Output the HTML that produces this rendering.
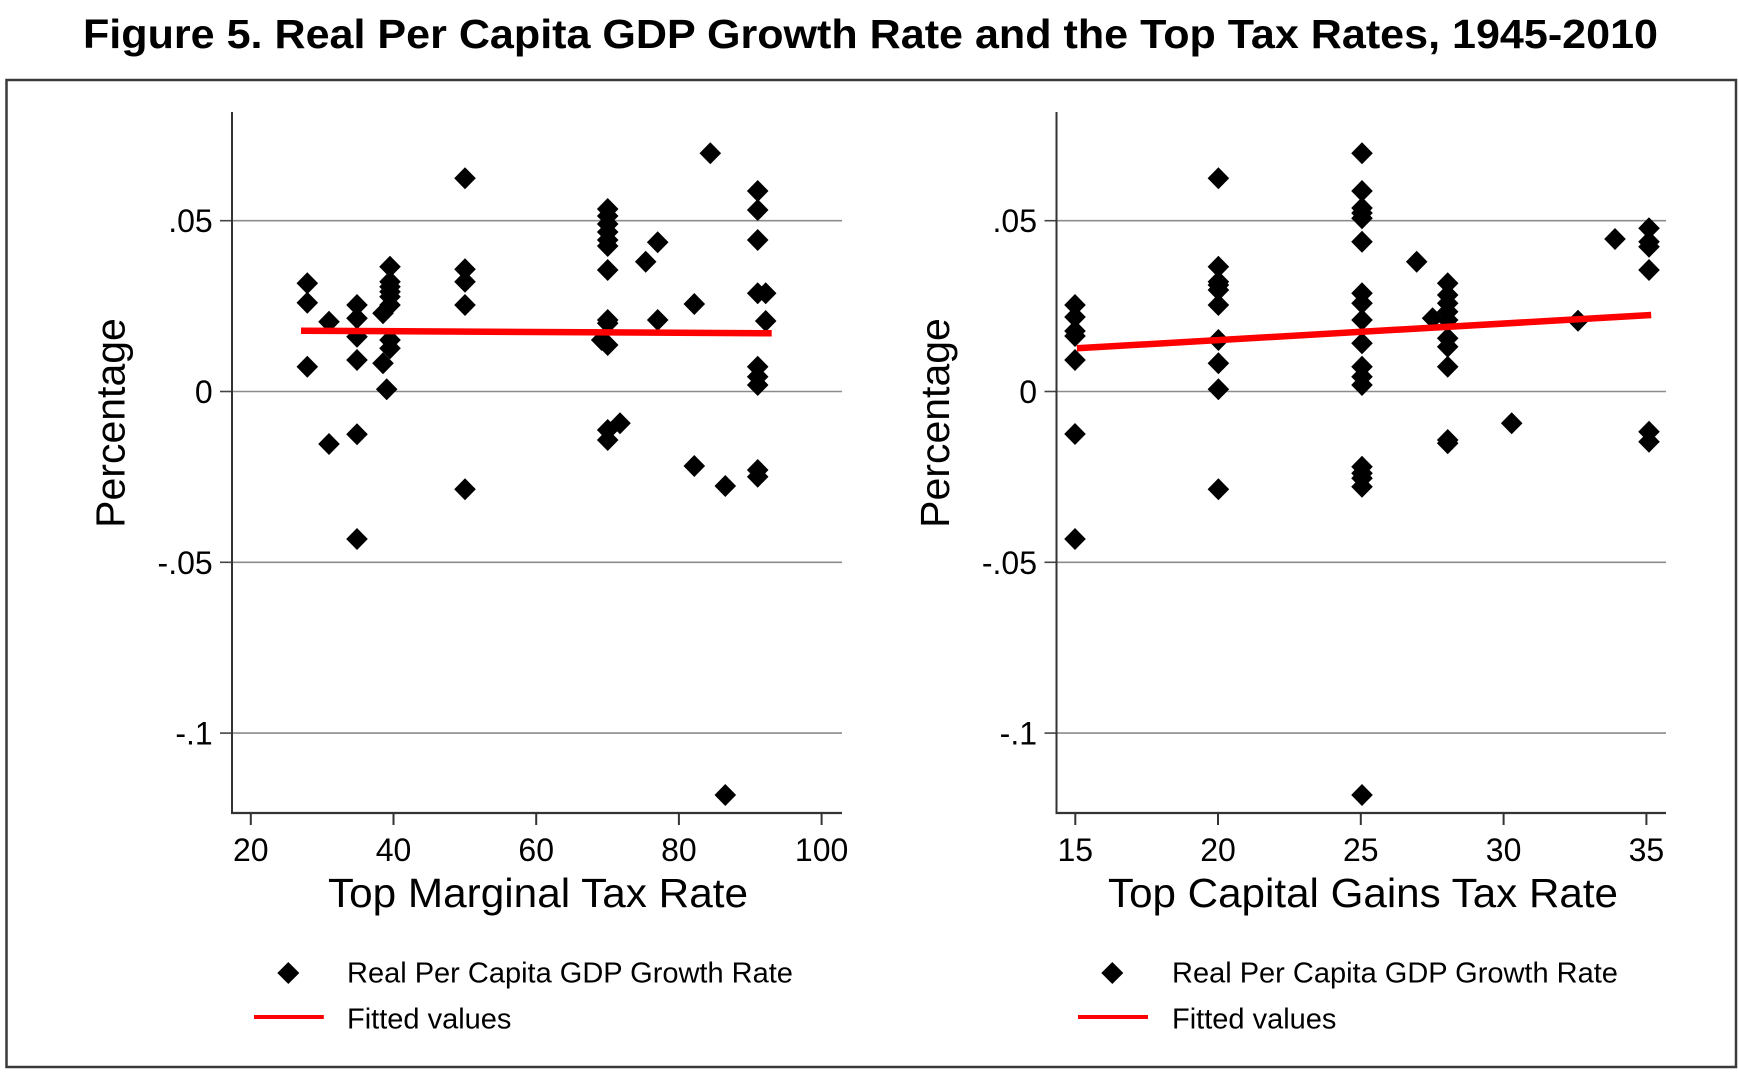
<!DOCTYPE html>
<html>
<head>
<meta charset="utf-8">
<style>
  html, body { margin:0; padding:0; background:#fff; }
  svg { display:block; }
  text { font-family: "Liberation Sans", Arial, sans-serif; fill:#000; }
</style>
</head>
<body>
<svg width="1739" height="1072" viewBox="0 0 1739 1072" xmlns="http://www.w3.org/2000/svg">
  <defs>
    <path id="d" d="M0,-11 L10.8,0 L0,11 L-10.8,0 Z" fill="#000"/>
  </defs>
  <rect x="0" y="0" width="1739" height="1072" fill="#fff"/>

  <!-- Title -->
  <text x="83" y="48" font-size="41" font-weight="bold" textLength="1575" lengthAdjust="spacingAndGlyphs">Figure 5. Real Per Capita GDP Growth Rate and the Top Tax Rates, 1945-2010</text>

  <!-- Outer frame -->
  <rect x="6.5" y="80" width="1729.5" height="987" fill="none" stroke="#3a3a3a" stroke-width="2.5"/>

  <!-- ================= LEFT PANEL ================= -->
  <g>
    <g stroke="#8c8c8c" stroke-width="1.6">
      <line x1="232" y1="220.7" x2="842" y2="220.7"/>
      <line x1="232" y1="391.5" x2="842" y2="391.5"/>
      <line x1="232" y1="562.3" x2="842" y2="562.3"/>
      <line x1="232" y1="733.1" x2="842" y2="733.1"/>
    </g>
    <g stroke="#444" stroke-width="1.6">
      <line x1="220" y1="220.7" x2="232" y2="220.7"/>
      <line x1="220" y1="391.5" x2="232" y2="391.5"/>
      <line x1="220" y1="562.3" x2="232" y2="562.3"/>
      <line x1="220" y1="733.1" x2="232" y2="733.1"/>
    </g>
    <line x1="232" y1="112" x2="232" y2="814" stroke="#333" stroke-width="2"/>
    <line x1="231" y1="813" x2="842" y2="813" stroke="#333" stroke-width="2.2"/>
    <g stroke="#333" stroke-width="2">
      <line x1="250.8" y1="813" x2="250.8" y2="825"/>
      <line x1="393.5" y1="813" x2="393.5" y2="825"/>
      <line x1="536.2" y1="813" x2="536.2" y2="825"/>
      <line x1="678.9" y1="813" x2="678.9" y2="825"/>
      <line x1="821.6" y1="813" x2="821.6" y2="825"/>
    </g>
    <g font-size="32" text-anchor="end">
      <text x="212.7" y="232.2">.05</text>
      <text x="212.7" y="403">0</text>
      <text x="212.7" y="573.8">-.05</text>
      <text x="212.7" y="744.6">-.1</text>
    </g>
    <g font-size="32" text-anchor="middle">
      <text x="250.8" y="861">20</text>
      <text x="393.5" y="861">40</text>
      <text x="536.2" y="861">60</text>
      <text x="678.9" y="861">80</text>
      <text x="821.6" y="861">100</text>
    </g>
    <text x="538" y="907" font-size="41" text-anchor="middle" textLength="420" lengthAdjust="spacingAndGlyphs">Top Marginal Tax Rate</text>
    <text transform="translate(124.4,423) rotate(-90)" font-size="41" text-anchor="middle">Percentage</text>

    <g>
      <use href="#d" x="307.3" y="283.3"/><use href="#d" x="307.3" y="302.7"/><use href="#d" x="307.3" y="366.7"/>
      <use href="#d" x="329" y="321.7"/><use href="#d" x="329" y="444"/>
      <use href="#d" x="357" y="305"/><use href="#d" x="357" y="318.3"/><use href="#d" x="357" y="336.7"/><use href="#d" x="357" y="360"/><use href="#d" x="357" y="434.3"/><use href="#d" x="357" y="539"/>
      <use href="#d" x="390" y="266.7"/><use href="#d" x="390" y="281.7"/><use href="#d" x="390" y="286.7"/><use href="#d" x="390" y="291.7"/><use href="#d" x="390" y="296.7"/><use href="#d" x="390" y="305"/>
      <use href="#d" x="383" y="313.3"/><use href="#d" x="390" y="340"/><use href="#d" x="390" y="348.3"/><use href="#d" x="383" y="363.3"/><use href="#d" x="386.7" y="389.3"/>
      <use href="#d" x="465" y="178.3"/><use href="#d" x="465" y="269.3"/><use href="#d" x="465" y="281.7"/><use href="#d" x="465" y="305"/><use href="#d" x="465" y="489.3"/>
      <use href="#d" x="607.7" y="209"/><use href="#d" x="607.7" y="216"/><use href="#d" x="607.7" y="224"/><use href="#d" x="607.7" y="232"/><use href="#d" x="607.7" y="240"/><use href="#d" x="607.7" y="246"/><use href="#d" x="607.7" y="270"/>
      <use href="#d" x="607.7" y="320"/><use href="#d" x="607.7" y="323.3"/><use href="#d" x="601.7" y="340"/><use href="#d" x="607.7" y="345"/>
      <use href="#d" x="620" y="423.3"/><use href="#d" x="607.7" y="430"/><use href="#d" x="607.7" y="440"/>
      <use href="#d" x="645.7" y="261.7"/>
      <use href="#d" x="657.7" y="242.3"/><use href="#d" x="657.7" y="320"/>
      <use href="#d" x="694.3" y="304"/><use href="#d" x="694.3" y="466"/>
      <use href="#d" x="710.3" y="153.3"/>
      <use href="#d" x="725.3" y="486"/>
      <use href="#d" x="725.3" y="795"/>
      <use href="#d" x="757.7" y="191"/><use href="#d" x="757.7" y="210"/><use href="#d" x="757.7" y="240"/><use href="#d" x="757.7" y="293.3"/><use href="#d" x="757.7" y="366.7"/><use href="#d" x="757.7" y="376.7"/><use href="#d" x="757.7" y="385"/><use href="#d" x="757.7" y="470"/><use href="#d" x="757.7" y="476.7"/>
      <use href="#d" x="765.7" y="293.3"/><use href="#d" x="765.7" y="321"/>
    </g>
    <line x1="301" y1="330.7" x2="771.7" y2="333.3" stroke="#ff0000" stroke-width="6.5"/>

    <path d="M288.3,962 L299.3,973 L288.3,984 L277.3,973 Z" fill="#000"/>
    <text x="347" y="982.5" font-size="29">Real Per Capita GDP Growth Rate</text>
    <line x1="254" y1="1017" x2="323.8" y2="1017" stroke="#ff0000" stroke-width="4"/>
    <text x="347" y="1028.5" font-size="29">Fitted values</text>
  </g>

  <!-- ================= RIGHT PANEL ================= -->
  <g>
    <g stroke="#8c8c8c" stroke-width="1.6">
      <line x1="1056.5" y1="220.7" x2="1666" y2="220.7"/>
      <line x1="1056.5" y1="391.5" x2="1666" y2="391.5"/>
      <line x1="1056.5" y1="562.3" x2="1666" y2="562.3"/>
      <line x1="1056.5" y1="733.1" x2="1666" y2="733.1"/>
    </g>
    <g stroke="#444" stroke-width="1.6">
      <line x1="1044.5" y1="220.7" x2="1056.5" y2="220.7"/>
      <line x1="1044.5" y1="391.5" x2="1056.5" y2="391.5"/>
      <line x1="1044.5" y1="562.3" x2="1056.5" y2="562.3"/>
      <line x1="1044.5" y1="733.1" x2="1056.5" y2="733.1"/>
    </g>
    <line x1="1056.5" y1="112" x2="1056.5" y2="814" stroke="#333" stroke-width="2"/>
    <line x1="1055.5" y1="813" x2="1666" y2="813" stroke="#333" stroke-width="2.2"/>
    <g stroke="#333" stroke-width="2">
      <line x1="1075.3" y1="813" x2="1075.3" y2="825"/>
      <line x1="1218" y1="813" x2="1218" y2="825"/>
      <line x1="1360.8" y1="813" x2="1360.8" y2="825"/>
      <line x1="1503.6" y1="813" x2="1503.6" y2="825"/>
      <line x1="1646.4" y1="813" x2="1646.4" y2="825"/>
    </g>
    <g font-size="32" text-anchor="end">
      <text x="1037" y="232.2">.05</text>
      <text x="1037" y="403">0</text>
      <text x="1037" y="573.8">-.05</text>
      <text x="1037" y="744.6">-.1</text>
    </g>
    <g font-size="32" text-anchor="middle">
      <text x="1075.3" y="861">15</text>
      <text x="1218" y="861">20</text>
      <text x="1360.8" y="861">25</text>
      <text x="1503.6" y="861">30</text>
      <text x="1646.4" y="861">35</text>
    </g>
    <text x="1363" y="907" font-size="41" text-anchor="middle" textLength="510" lengthAdjust="spacingAndGlyphs">Top Capital Gains Tax Rate</text>
    <text transform="translate(948.9,423) rotate(-90)" font-size="41" text-anchor="middle">Percentage</text>

    <g>
      <use href="#d" x="1075" y="305"/><use href="#d" x="1075" y="317"/><use href="#d" x="1075" y="331"/><use href="#d" x="1075" y="336"/><use href="#d" x="1075" y="360"/><use href="#d" x="1075" y="434"/><use href="#d" x="1075" y="539"/>
      <use href="#d" x="1218.4" y="178.3"/><use href="#d" x="1218.4" y="266.7"/><use href="#d" x="1218.4" y="281.7"/><use href="#d" x="1218.4" y="285"/><use href="#d" x="1218.4" y="290"/><use href="#d" x="1218.4" y="305"/><use href="#d" x="1218.4" y="340"/><use href="#d" x="1218.4" y="363.3"/><use href="#d" x="1218.4" y="389.3"/><use href="#d" x="1218.4" y="489.3"/>
      <use href="#d" x="1362" y="153.3"/><use href="#d" x="1362" y="191"/><use href="#d" x="1362" y="208"/><use href="#d" x="1362" y="213"/><use href="#d" x="1362" y="218.3"/><use href="#d" x="1362" y="241.7"/><use href="#d" x="1362" y="293.3"/><use href="#d" x="1362" y="303.3"/><use href="#d" x="1362" y="320"/><use href="#d" x="1362" y="343.3"/><use href="#d" x="1362" y="366.7"/><use href="#d" x="1362" y="376.7"/><use href="#d" x="1362" y="385"/><use href="#d" x="1362" y="466.7"/><use href="#d" x="1362" y="473.3"/><use href="#d" x="1362" y="478.3"/><use href="#d" x="1362" y="486.7"/><use href="#d" x="1362" y="795"/>
      <use href="#d" x="1416.7" y="261.7"/>
      <use href="#d" x="1447.7" y="283.3"/><use href="#d" x="1447.7" y="295"/><use href="#d" x="1447.7" y="303.3"/><use href="#d" x="1447.7" y="311.7"/><use href="#d" x="1447.7" y="320"/><use href="#d" x="1447.7" y="338.3"/><use href="#d" x="1447.7" y="346.7"/><use href="#d" x="1447.7" y="366.7"/><use href="#d" x="1447.7" y="440"/><use href="#d" x="1447.7" y="443.3"/>
      <use href="#d" x="1432.6" y="318.3"/>
      <use href="#d" x="1511.7" y="423.3"/>
      <use href="#d" x="1578" y="320.7"/>
      <use href="#d" x="1615" y="239"/>
      <use href="#d" x="1649" y="228.3"/><use href="#d" x="1649" y="241.7"/><use href="#d" x="1649" y="246.7"/><use href="#d" x="1649" y="270"/><use href="#d" x="1649" y="431.7"/><use href="#d" x="1649" y="441.7"/>
    </g>
    <line x1="1076.9" y1="348.3" x2="1651.2" y2="315" stroke="#ff0000" stroke-width="6.5"/>

    <path d="M1112.3,962 L1123.3,973 L1112.3,984 L1101.3,973 Z" fill="#000"/>
    <text x="1172" y="982.5" font-size="29">Real Per Capita GDP Growth Rate</text>
    <line x1="1078" y1="1017" x2="1148" y2="1017" stroke="#ff0000" stroke-width="4"/>
    <text x="1172" y="1028.5" font-size="29">Fitted values</text>
  </g>
</svg>
</body>
</html>
